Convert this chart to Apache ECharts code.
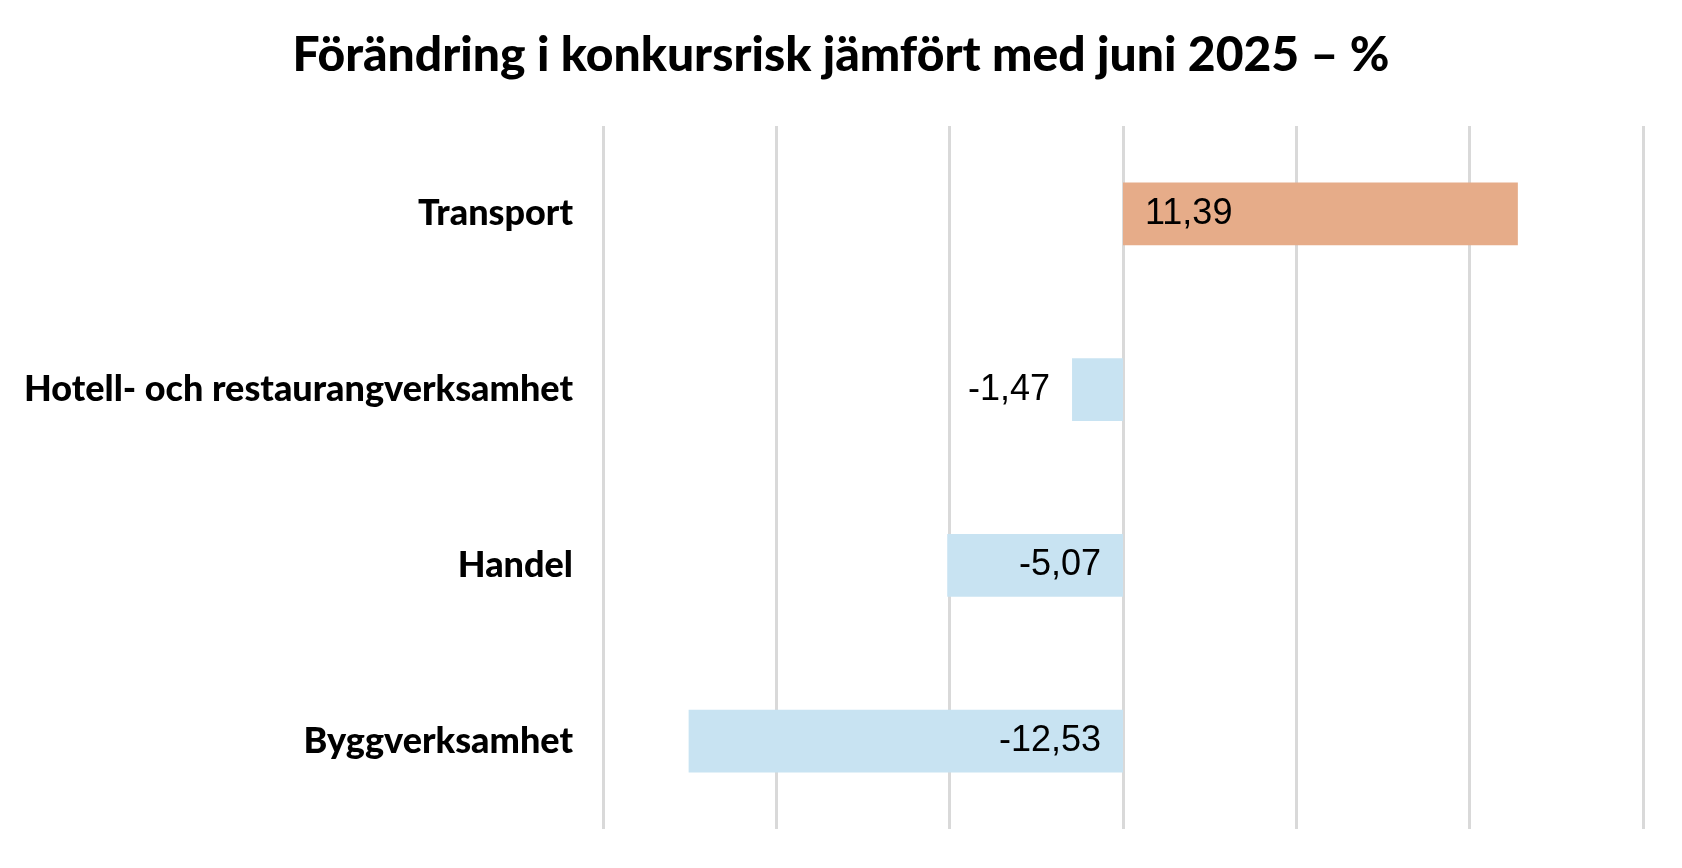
<!DOCTYPE html>
<html>
<head>
<meta charset="utf-8">
<script src="https://cdn.jsdelivr.net/npm/echarts@6/dist/echarts.min.js"></script>
<style>
  html, body { margin: 0; padding: 0; background: #fff; }
  #chart { width: 1682px; height: 868px; }
</style>
</head>
<body>
<div id="chart"></div>
<script>
// Förändring i konkursrisk, branscher uppifrån och ned
const categories = ['Transport', 'Hotell- och restaurangverksamhet', 'Handel', 'Byggverksamhet']
const values = [11.39, -1.47, -5.07, -12.53]
// var etiketten hamnar (som i originalet)
const labelPos = ['insideLeft', 'left', 'insideRight', 'insideRight']
const axisMin = -15
const axisMax = 15
const axisStep = 5

const chart = echarts.init(document.getElementById('chart'))

const seriesData = values.map((v, i) => {
  return {
    value: v,
    itemStyle: { color: v >= 0 ? '#e6ac89' : '#c8e3f2' },
    label: {
      position: labelPos[i],
      distance: labelPos[i] == 'left' ? 22 : (labelPos[i] == 'insideLeft' ? 22 : 22)
    }
  }
})

chart.setOption({
  animation: false,
  title: {
    text: 'Förändring i konkursrisk jämfört med juni 2025 – %',
    left: 'center',
    top: 27,
    textStyle: {
      fontFamily: 'Lato',
      fontWeight: 900,
      fontSize: 48,
      color: '#000'
    }
  },
  grid: {
    left: 603,
    right: 39,
    top: 126,
    bottom: 39
  },
  xAxis: {
    type: 'value',
    min: axisMin,
    max: axisMax,
    interval: axisStep,
    axisLine: { show: false },
    axisTick: { show: false },
    axisLabel: { show: false },
    splitLine: {
      show: true,
      lineStyle: { color: '#d9d9d9', width: 3 }
    }
  },
  yAxis: {
    type: 'category',
    data: categories,
    inverse: true,
    axisLine: { show: false },
    axisTick: { show: false },
    axisLabel: {
      margin: 30,
      fontFamily: 'Lato',
      fontWeight: 900,
      fontSize: 36,
      color: '#000'
    }
  },
  series: [{
    type: 'bar',
    data: seriesData,
    barWidth: '35.6%',
    label: {
      show: true,
      fontFamily: 'Liberation Sans',
      fontSize: 36,
      color: '#000',
      formatter: function (p) {
        return p.value.toFixed(2).replace('.', ',')
      }
    }
  }]
})
</script>
</body>
</html>
